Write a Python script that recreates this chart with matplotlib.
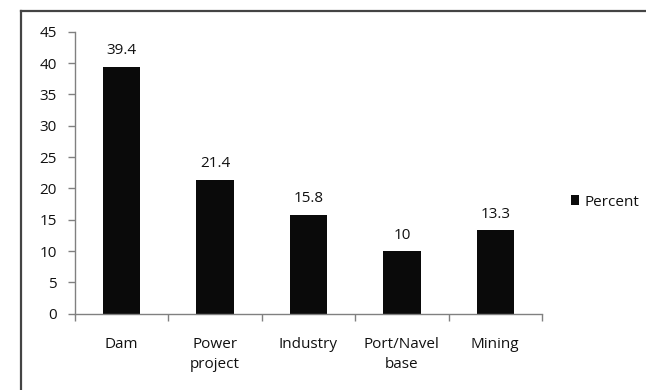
import matplotlib
matplotlib.use("Agg")
import matplotlib.pyplot as plt
from matplotlib.lines import Line2D

categories = ["Dam", "Power\nproject", "Industry", "Port/Navel\nbase", "Mining"]
values = [39.4, 21.4, 15.8, 10, 13.3]
value_labels = ["39.4", "21.4", "15.8", "10", "13.3"]
series_name = "Percent"
yticks = [0, 5, 10, 15, 20, 25, 30, 35, 40, 45]

plt.rcParams["font.family"] = ["Open Sans", "DejaVu Sans"]
FS = 11
TXT = "#111111"

W, H = 646, 390
fig = plt.figure(figsize=(W / 100, H / 100), dpi=100)

# chart-area frame, partly clipped by the canvas edge
fig.add_artist(Line2D([21 / W, 1.0], [1 - 11 / H, 1 - 11 / H], transform=fig.transFigure,
                      color="#444444", lw=1.6))
fig.add_artist(Line2D([21 / W, 21 / W], [0, 1 - 11 / H], transform=fig.transFigure,
                      color="#444444", lw=1.6))

ax = fig.add_axes([75 / W, (H - 313.7) / H, 467 / W, 282 / H])
x = range(len(categories))
ax.bar(x, values, width=0.4, color="#0a0a0a", label=series_name)
ax.set_xlim(-0.5, len(categories) - 0.5)
ax.set_ylim(0, 45)

for xi, v, lab in zip(x, values, value_labels):
    ax.annotate(lab, (xi, v), xytext=(0, 6), textcoords="offset points",
                ha="center", va="bottom", fontsize=FS, color=TXT)

ax.set_yticks(yticks)
ax.set_yticklabels([str(t) for t in yticks], fontsize=FS, color=TXT)
ax.set_xticks([i + 0.5 for i in range(-1, len(categories))])
ax.set_xticklabels([])
ax.set_xticks(list(x), minor=True)
ax.set_xticklabels(categories, minor=True, fontsize=FS, color=TXT, linespacing=1.45)
ax.tick_params(axis="x", which="minor", length=0, pad=17)
ax.tick_params(axis="x", which="major", length=5, color="#808080", width=1)
ax.tick_params(axis="y", length=5, color="#808080", width=1, pad=8)

for s in ["top", "right"]:
    ax.spines[s].set_visible(False)
for s in ["left", "bottom"]:
    ax.spines[s].set_color("#808080")
    ax.spines[s].set_linewidth(1)

fig.legend(loc="center left", bbox_to_anchor=(571 / W, 1 - 202 / H), frameon=False,
           fontsize=FS, handlelength=0.55, handleheight=0.55, handletextpad=0.35,
           borderpad=0, borderaxespad=0, labelcolor=TXT)

fig.savefig("out.png", dpi=100)
